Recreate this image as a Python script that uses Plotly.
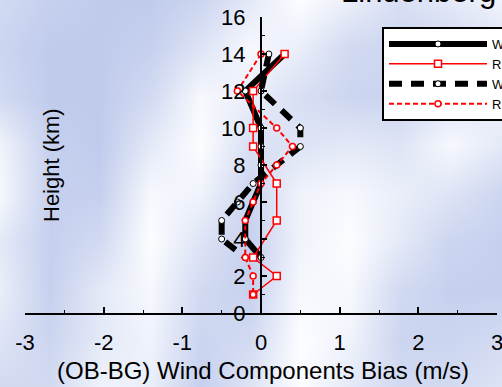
import plotly.graph_objects as go

# ---------------- data ----------------
wpr_u_height = [14, 12, 10, 9, 8, 7, 6, 5, 4, 3]
wpr_u_bias   = [0.3, -0.2, 0.0, 0.0, 0.0, 0.0, -0.1, -0.2, -0.2, 0.0]

rs_u_height = [14, 12, 10, 9, 7, 5, 3, 2, 1]
rs_u_bias   = [0.3, -0.1, -0.1, -0.1, 0.2, 0.2, -0.1, 0.2, -0.1]

wpr_v_height = [14, 12, 10, 9, 8, 7, 6, 5, 4, 3]
wpr_v_bias   = [0.1, 0.0, 0.5, 0.5, 0.2, -0.1, -0.3, -0.5, -0.5, -0.2]

rs_v_height = [14, 12, 10, 9, 8, 7, 6, 5, 3, 2, 1]
rs_v_bias   = [0.0, -0.3, 0.2, 0.4, 0.2, 0.0, -0.1, -0.2, -0.2, -0.1, -0.1]

series_names = ["WPR U", "RS U", "WPR V", "RS V"]
x_ticks = [-3, -2, -1, 0, 1, 2, 3]
y_ticks = [0, 2, 4, 6, 8, 10, 12, 14, 16]

# decorative background pattern (0 = blue, 1 = white), figure-pixel grid
bg_x = [0, 50, 100, 150, 200, 250, 300, 350, 400, 450, 502]
bg_y = [0, 48, 97, 145, 194, 242, 290, 339, 387]
bg_z = [
    [0.3, 0.1, 0.0, 0.0, 0.2, 0.6, 1.0, 0.7, 0.4, 0.6, 0.8],
    [0.2, 0.0, 0.0, 0.1, 0.5, 0.9, 0.7, 0.3, 0.2, 0.3, 0.5],
    [0.3, 0.0, 0.0, 0.3, 0.9, 0.7, 0.4, 0.2, 0.2, 0.5, 0.8],
    [0.8, 0.1, 0.0, 0.6, 1.0, 0.4, 0.5, 0.6, 0.5, 0.9, 0.6],
    [0.9, 0.1, 0.1, 0.9, 0.8, 0.2, 0.8, 0.9, 0.7, 0.5, 0.2],
    [0.6, 0.1, 0.3, 1.0, 0.5, 0.1, 0.8, 1.0, 0.6, 0.2, 0.1],
    [0.7, 0.1, 0.6, 0.9, 0.3, 0.1, 0.9, 0.9, 0.3, 0.1, 0.1],
    [0.5, 0.2, 0.6, 0.8, 0.2, 0.3, 1.0, 0.8, 0.2, 0.2, 0.3],
    [0.3, 0.3, 0.8, 0.7, 0.1, 0.5, 1.0, 0.6, 0.3, 0.3, 0.5],
]

# ---------------- layout geometry ----------------
W, H = 502, 387
PL, PR, PT, PB = 25, 497, 17, 313
xdom = [PL / W, PR / W]
ydom = [1 - PB / H, 1 - PT / H]
FONT = "Liberation Sans, Arial, sans-serif"

fig = go.Figure()

# background (full-figure hidden axes)
fig.add_trace(go.Heatmap(
    x=bg_x, y=bg_y, z=bg_z, zsmooth="best", showscale=False, hoverinfo="skip",
    colorscale=[[0, "rgb(192,203,236)"], [1, "rgb(252,253,255)"]],
    zmin=0, zmax=1, xaxis="x", yaxis="y", showlegend=False,
))

common = dict(xaxis="x2", yaxis="y2", mode="lines+markers", cliponaxis=False)

fig.add_trace(go.Scatter(
    x=wpr_u_bias, y=wpr_u_height, name=series_names[0],
    line=dict(color="black", width=6),
    marker=dict(symbol="circle", size=6, color="white", line=dict(color="black", width=1)),
    **common))
fig.add_trace(go.Scatter(
    x=rs_u_bias, y=rs_u_height, name=series_names[1],
    line=dict(color="red", width=1.5),
    marker=dict(symbol="square", size=7, color="white", line=dict(color="red", width=1.5)),
    **common))
fig.add_trace(go.Scatter(
    x=wpr_v_bias, y=wpr_v_height, name=series_names[2],
    line=dict(color="black", width=6, dash="13px,9px"),
    marker=dict(symbol="circle", size=6, color="white", line=dict(color="black", width=1)),
    **common))
fig.add_trace(go.Scatter(
    x=rs_v_bias, y=rs_v_height, name=series_names[3],
    line=dict(color="red", width=2, dash="5px,3px"),
    marker=dict(symbol="circle", size=6, color="white", line=dict(color="red", width=1.5)),
    **common))

fig.update_layout(
    width=W, height=H,
    margin=dict(l=0, r=0, t=0, b=0, pad=0, autoexpand=False),
    paper_bgcolor="rgb(210,218,242)",
    plot_bgcolor="rgba(0,0,0,0)",
    font=dict(family=FONT, size=22, color="black"),
    showlegend=True,
    legend=dict(
        x=382 / W, y=1 - 27 / H, xanchor="left", yanchor="top",
        bgcolor="white", bordercolor="black", borderwidth=2,
        font=dict(size=13, color="black"), itemwidth=98,
        tracegroupgap=0,
    ),
    xaxis=dict(domain=[0, 1], range=[0, W], visible=False, fixedrange=True),
    yaxis=dict(domain=[0, 1], range=[H, 0], visible=False, fixedrange=True),
    xaxis2=dict(
        domain=xdom, anchor="y2", range=[-3, 3], tickvals=x_ticks,
        ticktext=[str(v) for v in x_ticks],
        showline=True, linecolor="black", linewidth=2,
        ticks="inside", ticklen=6, tickwidth=1.5, tickcolor="black",
        minor=dict(dtick=0.5, ticks="inside", ticklen=3, tickwidth=1, tickcolor="black"),
        showgrid=False, zeroline=False, ticklabelstandoff=9,
        ticklabeloverflow="allow",
        tickfont=dict(size=22), automargin=False,
    ),
    yaxis2=dict(
        domain=ydom, anchor="free", position=(xdom[0] + xdom[1]) / 2,
        range=[0, 16], tickvals=y_ticks, ticktext=[str(v) for v in y_ticks],
        showline=True, linecolor="black", linewidth=2,
        ticks="inside", ticklen=5, tickwidth=1.5, tickcolor="black",
        minor=dict(dtick=1, ticks="inside", ticklen=3, tickwidth=1, tickcolor="black"),
        showgrid=False, zeroline=False, ticklabelstandoff=10,
        ticklabeloverflow="allow",
        tickfont=dict(size=22), automargin=False,
    ),
    annotations=[
        dict(text="Lindenberg", xref="paper", yref="paper", x=339 / W, y=1 - 11 / H,
             xanchor="left", yanchor="bottom", showarrow=False,
             font=dict(size=31, color="black")),
        dict(text="Height (km)", xref="paper", yref="paper", x=51 / W, y=1 - 165 / H,
             xanchor="center", yanchor="middle", textangle=-90, showarrow=False,
             font=dict(size=22, color="black")),
        dict(text="(OB-BG) Wind Components Bias (m/s)", xref="paper", yref="paper",
             x=263 / W, y=1 - 370 / H, xanchor="center", yanchor="middle",
             showarrow=False, font=dict(size=24, color="black")),
    ],
)

fig.write_html("out.html")
